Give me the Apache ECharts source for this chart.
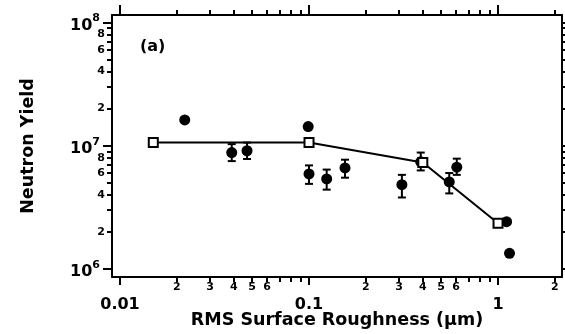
<!DOCTYPE html>
<html lang="en">
<head>
  <meta charset="UTF-8">
  <title>Neutron Yield vs RMS Surface Roughness</title>
  <script src="https://cdn.jsdelivr.net/npm/echarts@6/dist/echarts.min.js"></script>
  <style>
    html, body { margin: 0; padding: 0; background: #fff; }
    #chart { width: 565px; height: 334px; }
  </style>
</head>
<body>
<div id="chart"></div>
<script>
  // 数据：方块连线（计算值）
  var lineX = [0.015, 0.1, 0.4, 1.0];
  var lineY = [1.06e7, 1.06e7, 7.3e6, 2.35e6];
  // 实心点（实验值）及误差棒
  var dotX = [0.022, 0.039, 0.047, 0.099, 0.1, 0.124, 0.155, 0.31, 0.39, 0.552, 0.605, 1.11, 1.15];
  var dotY = [1.62e7, 8.8e6, 9.1e6, 1.43e7, 5.9e6, 5.37e6, 6.6e6, 4.83e6, 7.4e6, 5.08e6, 6.7e6, 2.42e6, 1.34e6];
  var errLo = [null, 7.5e6, 7.8e6, null, 4.9e6, 4.4e6, 5.5e6, 3.8e6, 6.3e6, 4.1e6, 5.8e6, null, null];
  var errHi = [null, 1.03e7, 1.06e7, null, 6.92e6, 6.4e6, 7.7e6, 5.8e6, 8.8e6, 6.0e6, 7.85e6, null, null];

  // 刻度
  var xMajor = [0.01, 0.1, 1];
  var xMinor = [0.02, 0.03, 0.04, 0.05, 0.06, 0.07, 0.08, 0.09, 0.2, 0.3, 0.4, 0.5, 0.6, 0.7, 0.8, 0.9, 2];
  var xMinorLabels = [0.02, 0.03, 0.04, 0.05, 0.06, 0.2, 0.3, 0.4, 0.5, 0.6, 2];
  var yMajor = [1e6, 1e7, 1e8];
  var yMinor = [2e6, 3e6, 4e6, 5e6, 6e6, 7e6, 8e6, 9e6, 2e7, 3e7, 4e7, 5e7, 6e7, 7e7, 8e7, 9e7];
  var yMinorLabels = [2e6, 4e6, 6e6, 8e6, 2e7, 4e7, 6e7, 8e7];

  var xMin = 0.00907, xMax = 2.18;
  var yMin = 8.6e5, yMax = 1.15e8;

  var FONT = '"DejaVu Sans", "Liberation Sans", Arial, sans-serif';
  var ink = '#000';

  function leadDigit(v) {
    var p = Math.pow(10, Math.floor(Math.log10(v) + 1e-9));
    return String(Math.round(v / p));
  }

  function logAxis(opt) {
    var base = {
      type: 'log',
      logBase: 10,
      min: opt.min,
      max: opt.max,
      position: opt.position,
      splitLine: { show: false },
      minorTick: { show: false },
      axisLine: { show: !!opt.line, onZero: false, lineStyle: { color: ink, width: 2 } },
      axisTick: {
        show: true,
        inside: false,
        length: opt.tickLen,
        customValues: opt.ticks,
        lineStyle: { color: ink, width: 2 }
      },
      axisLabel: { show: false }
    };
    if (opt.labels) {
      base.axisLabel = {
        show: true,
        customValues: opt.labels,
        margin: opt.margin,
        color: ink,
        fontFamily: FONT,
        fontWeight: 'bold',
        fontSize: opt.fontSize,
        formatter: opt.formatter,
        rich: opt.rich
      };
    }
    if (opt.name) {
      base.name = opt.name;
      base.nameLocation = 'middle';
      base.nameGap = opt.nameGap;
      base.nameMoveOverlap = false;
      base.nameTextStyle = { fontFamily: FONT, fontWeight: 'bold', fontSize: 17.5, color: ink };
    }
    return base;
  }

  var myChart = echarts.init(document.getElementById('chart'), null, { renderer: 'canvas' });

  var option = {
    animation: false,
    backgroundColor: '#fff',
    title: {
      text: '(a)',
      left: 140,
      top: 39,
      padding: 0,
      textStyle: { fontFamily: FONT, fontWeight: 'bold', fontSize: 16, color: ink }
    },
    grid: { left: 112, right: 3, top: 15, bottom: 57, containLabel: false, outerBoundsMode: 'none' },
    xAxis: [
      logAxis({ min: xMin, max: xMax, position: 'bottom', line: true, tickLen: 8, ticks: xMajor,
        labels: xMajor, margin: 20, fontSize: 16,
        formatter: function (v) { return String(+v.toPrecision(1)); },
        name: 'RMS Surface Roughness (\u03bcm)', nameGap: 34 }),
      logAxis({ min: xMin, max: xMax, position: 'bottom', tickLen: 5, ticks: xMinor,
        labels: xMinorLabels, margin: 5, fontSize: 11, formatter: leadDigit }),
      logAxis({ min: xMin, max: xMax, position: 'top', line: true, tickLen: 10, ticks: xMajor }),
      logAxis({ min: xMin, max: xMax, position: 'top', tickLen: 5, ticks: xMinor })
    ],
    yAxis: [
      logAxis({ min: yMin, max: yMax, position: 'left', line: true, tickLen: 9, ticks: yMajor,
        labels: yMajor, margin: 12, fontSize: 16,
        formatter: function (v) { return '{b|10}{s|' + Math.round(Math.log10(v)) + '}'; },
        rich: {
          b: { fontFamily: FONT, fontWeight: 'bold', fontSize: 16, color: ink, padding: [6, 0, 0, 0] },
          s: { fontFamily: FONT, fontWeight: 'bold', fontSize: 11, color: ink, padding: [0, 0, 8, 0] }
        },
        name: 'Neutron Yield', nameGap: 75 }),
      logAxis({ min: yMin, max: yMax, position: 'left', tickLen: 5, ticks: yMinor,
        labels: yMinorLabels, margin: 7, fontSize: 11, formatter: leadDigit }),
      logAxis({ min: yMin, max: yMax, position: 'right', line: true, tickLen: 6, ticks: yMajor }),
      logAxis({ min: yMin, max: yMax, position: 'right', tickLen: 3, ticks: yMinor })
    ],
    series: [
      {
        name: 'error',
        type: 'custom',
        xAxisIndex: 0,
        yAxisIndex: 0,
        z: 2,
        data: dotX.map(function (x, i) { return [x, errLo[i], errHi[i]]; })
          .filter(function (d) { return d[1] != null; }),
        encode: { x: 0, y: [1, 2] },
        renderItem: function (params, api) {
          var x = api.value(0);
          var lo = api.coord([x, api.value(1)]);
          var hi = api.coord([x, api.value(2)]);
          var w = 4;
          var st = { stroke: ink, lineWidth: 2 };
          return {
            type: 'group',
            children: [
              { type: 'line', shape: { x1: lo[0], y1: lo[1], x2: hi[0], y2: hi[1] }, style: st },
              { type: 'line', shape: { x1: lo[0] - w, y1: lo[1], x2: lo[0] + w, y2: lo[1] }, style: st },
              { type: 'line', shape: { x1: hi[0] - w, y1: hi[1], x2: hi[0] + w, y2: hi[1] }, style: st }
            ]
          };
        }
      },
      {
        name: 'measured',
        type: 'scatter',
        xAxisIndex: 0,
        yAxisIndex: 0,
        z: 3,
        symbol: 'circle',
        symbolSize: 11,
        itemStyle: { color: ink, opacity: 1 },
        data: dotX.map(function (x, i) { return [x, dotY[i]]; })
      },
      {
        name: 'calc',
        type: 'line',
        xAxisIndex: 0,
        yAxisIndex: 0,
        z: 4,
        symbol: 'rect',
        symbolSize: 9,
        showAllSymbol: true,
        lineStyle: { color: ink, width: 2 },
        itemStyle: { color: '#fff', borderColor: ink, borderWidth: 2 },
        data: lineX.map(function (x, i) { return [x, lineY[i]]; })
      }
    ]
  };

  option && myChart.setOption(option);
</script>
</body>
</html>
